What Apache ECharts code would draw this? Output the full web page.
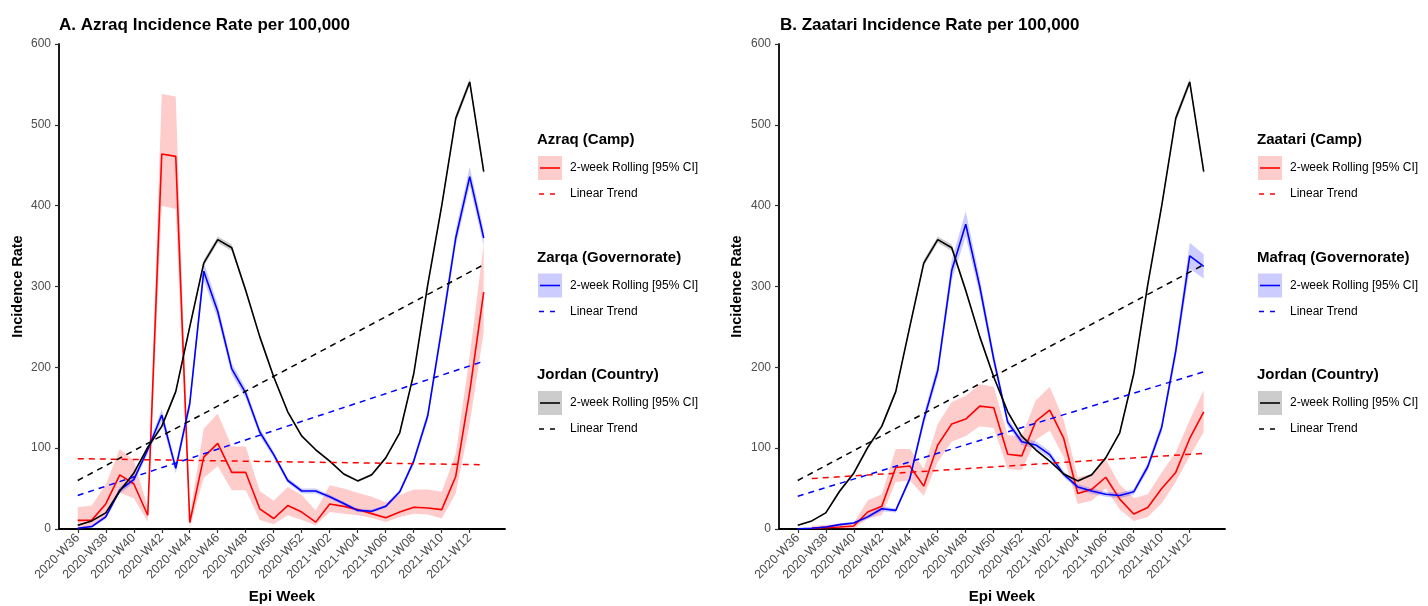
<!DOCTYPE html>
<html>
<head>
<meta charset="utf-8">
<script src="https://cdn.jsdelivr.net/npm/echarts@6/dist/echarts.min.js"></script>
<style>
html,body{margin:0;padding:0;background:#fff;}
#chart{width:1428px;height:606px;}
</style>
</head>
<body>
<div id="chart"></div>
<script>
// ---------------- DATA ----------------
const weeks = ['2020-W36','2020-W37','2020-W38','2020-W39','2020-W40','2020-W41','2020-W42','2020-W43','2020-W44','2020-W45',
  '2020-W46','2020-W47','2020-W48','2020-W49','2020-W50','2020-W51','2020-W52',
  '2021-W01','2021-W02','2021-W03','2021-W04','2021-W05','2021-W06','2021-W07','2021-W08','2021-W09','2021-W10','2021-W11','2021-W12','2021-W13'];
const tickWeeks = ['2020-W36','2020-W38','2020-W40','2020-W42','2020-W44','2020-W46','2020-W48','2020-W50','2020-W52',
  '2021-W02','2021-W04','2021-W06','2021-W08','2021-W10','2021-W12'];
const yTicks = [0,100,200,300,400,500,600];

// Jordan (Country) - shared by both panels
const jordan   = [4.5,10,20,47,69,101,127,170,250,329,358,348,295,238,188,145,115,98,84,68,59.5,67,88,119,192,302,400,508,553,442];
const jordanLo = [3.8,9.2,19,45,67,98.5,124.5,167,246.5,325,354,344,291.5,235,185.5,143,113,96.5,82.5,66.5,58,65.5,86.5,117,189.5,298.5,396,503.5,548.5,438];
const jordanHi = [5.2,10.8,21,49,71,103.5,129.5,173,253.5,333,362,352,298.5,241,190.5,147,117,99.5,85.5,69.5,61,68.5,89.5,121,194.5,305.5,404,512.5,557.5,446];

// Azraq (Camp)
const azraq   = [10.7,11,31,67,56,17,464,461,8,89,106,70,70,25,13,29,21,8.5,31,28,24,19,14,21,27,26,24,65,170,293];
const azraqLo = [1,1.5,14,45,38,9,400,396,2,63,78,48,48,11,6,17,11,4.6,21,19,17,14,8.7,15,19,18,13,44,130,244];
const azraqHi = [27,29,55,99,85,27,538,535,17,124,143,102,102,47,35,52,42,23,54,50,45,40,33,42,49,49,46,93,215,353];

// Zarqa (Governorate)
const zarqa   = [1,3,15,48,61,98,141,75,155,319,269,198,168,120,92,60,47,47,40,31.5,23,22,28,46,84,140,248,360,436,360];
const zarqaLo = [0,1.5,12.5,44,57,93,133,69,148,308,260,191,162,115,88,57,44,44,37.5,29,21,20,26,43,80,134,240,350,425,350];
const zarqaHi = [2,4.5,17.5,52,65,103,148,81,162,330,278,205,174,125,96,63,50,50,42.5,34,25,24,30,49,88,146,256,370,448,370];

// Zaatari (Camp) - no value for 2020-W36
const zaatari   = [null,0.8,2,2.5,3.7,21,28,76,78,53,104,130,136,152,150,92.5,90.5,133,147,112,44,49,64,37,18.5,26.5,50,70,112,145];
const zaatariLo = [null,0,0,0,0.3,13,17,58,60,41,83,108,115,127,125,74,73,110,122,89,31,35,50,24,10,15,32,58,90,120];
const zaatariHi = [null,4,5,6.5,7.5,35.5,43,99,99,75,130,157,165,179,176,116,115,159,176,135,64,68,86,55,38,43,70,95,135,172];

// Mafraq (Governorate)
const mafraq   = [0.3,1,2.5,5.4,7.4,15,25,23,62,135,196,320,377,300,210,132,108,104,92,67.5,52,47,43,41.5,46,77,126,220,338,325];
const mafraqLo = [0,0.3,1.5,4,6,12.5,22,20.5,58,128,188,308,362,290,203,127,103.5,99.5,87.5,64,48.5,43.5,40,38,42.5,72,120,211,322,310];
const mafraqHi = [0.6,2,3.5,7,9,17.5,28,25.5,66,142,204,333,393,311,218,137,112.5,108.5,96.5,71,55.5,50.5,46,45,49.5,82,132,229,354,340];

// Linear trends (start/end weeks and values)
const trendWeeksFull    = ['2020-W36','2021-W13'];
const trendWeeksZaatari = ['2020-W37','2021-W13'];
const jordanTrend  = [60, 327];
const azraqTrend   = [87, 79.5];
const zarqaTrend   = [41.5, 207.5];
const zaatariTrend = [62.4, 93.5];
const mafraqTrend  = [40.5, 194.5];

// ---------------- HELPERS ----------------
const FONT = '"Liberation Sans", Arial, sans-serif';
const RED = '#FF0000', BLUE = '#0000FF', BLACK = '#000000';
const wi = w => weeks.indexOf(w);

function pairs(vals){
  const out = [];
  vals.forEach((v,i)=>{ if (v !== null) out.push([i, v]); });
  return out;
}
function trendPairs(ws, vals){ return ws.map((w,k)=>[wi(w), vals[k]]); }

function bandSeries(ax, lo, hi, fill){
  const rows = [];
  lo.forEach((v,i)=>{ if (v !== null) rows.push([i, v, hi[i]]); });
  return {
    type:'custom', xAxisIndex:ax, yAxisIndex:ax, silent:true, z:1,
    clip:true,
    encode:{x:0, y:[1,2]},
    data: rows,
    renderItem: function(params, api){
      if (params.dataIndex !== 0) return null;
      const top = [], bot = [];
      rows.forEach(r=>{ top.push(api.coord([r[0], r[2]])); bot.push(api.coord([r[0], r[1]])); });
      return {type:'polygon', shape:{points: top.concat(bot.reverse())}, style:{fill: fill}};
    }
  };
}
function lineSeries(ax, data, color, dashed){
  return {
    type:'line', xAxisIndex:ax, yAxisIndex:ax, data:data, symbol:'none', silent:true,
    z: dashed ? 4 : 3, animation:false,
    lineStyle:{color:color, width: dashed ? 1.5 : 1.6, type: dashed ? [6,5] : 'solid'}
  };
}

const tickIdx = tickWeeks.map(wi);
function xAxis(gi){
  return {
    type:'value', gridIndex:gi, min:-1.34, max:30.52,
    axisLine:{show:true, onZero:false, lineStyle:{color:'#000', width:1.8}},
    axisTick:{show:true, length:4, customValues: tickIdx, lineStyle:{color:'#333', width:1.2}},
    axisLabel:{show:true, customValues: tickIdx, rotate:45, margin:7, color:'#4D4D4D', fontSize:12.5, fontFamily:FONT,
      formatter: v => weeks[Math.round(v)] || ''},
    splitLine:{show:false}
  };
}
function yAxis(gi){
  return {
    type:'value', gridIndex:gi, min:0, max:600, interval:100,
    axisLine:{show:true, onZero:false, lineStyle:{color:'#000', width:1.8}},
    axisTick:{show:true, length:4, lineStyle:{color:'#333', width:1.2}},
    axisLabel:{color:'#4D4D4D', fontSize:12, fontFamily:FONT, margin:8,
      formatter: v => yTicks.indexOf(v) >= 0 ? String(v) : ''},
    splitLine:{show:false}
  };
}

function legendGroup(x0, groups){
  const els = [];
  groups.forEach(g=>{
    const y = g.y;
    els.push({type:'text', x:x0, y:y, style:{text:g.title, font:'bold 15px '+FONT, fill:'#000', verticalAlign:'middle'}});
    els.push({type:'rect', shape:{x:x0+1, y:y+16, width:24, height:24}, style:{fill:g.box}});
    els.push({type:'line', shape:{x1:x0+3, y1:y+28, x2:x0+23, y2:y+28}, style:{stroke:g.color, lineWidth:1.6}});
    els.push({type:'text', x:x0+33, y:y+28, style:{text:'2-week Rolling [95% CI]', font:'12px '+FONT, fill:'#000', verticalAlign:'middle'}});
    els.push({type:'line', shape:{x1:x0+2, y1:y+54, x2:x0+23, y2:y+54}, style:{stroke:g.color, lineWidth:1.5, lineDash:[5,6]}});
    els.push({type:'text', x:x0+33, y:y+54, style:{text:'Linear Trend', font:'12px '+FONT, fill:'#000', verticalAlign:'middle'}});
  });
  return els;
}

// ---------------- CHART ----------------
const chart = echarts.init(document.getElementById('chart'), null, {renderer:'canvas'});

const grids = [
  {left:59, top:44, width:446, height:485},
  {left:779, top:44, width:446, height:485}
];

const series = [
  // panel A
  bandSeries(0, azraqLo, azraqHi, 'rgba(255,0,0,0.2)'),
  bandSeries(0, zarqaLo, zarqaHi, 'rgba(0,0,255,0.2)'),
  bandSeries(0, jordanLo, jordanHi, 'rgba(0,0,0,0.2)'),
  lineSeries(0, pairs(azraq), RED, false),
  lineSeries(0, pairs(zarqa), BLUE, false),
  lineSeries(0, pairs(jordan), BLACK, false),
  lineSeries(0, trendPairs(trendWeeksFull, azraqTrend), RED, true),
  lineSeries(0, trendPairs(trendWeeksFull, zarqaTrend), BLUE, true),
  lineSeries(0, trendPairs(trendWeeksFull, jordanTrend), BLACK, true),
  // panel B
  bandSeries(1, zaatariLo, zaatariHi, 'rgba(255,0,0,0.2)'),
  bandSeries(1, mafraqLo, mafraqHi, 'rgba(0,0,255,0.2)'),
  bandSeries(1, jordanLo, jordanHi, 'rgba(0,0,0,0.2)'),
  lineSeries(1, pairs(zaatari), RED, false),
  lineSeries(1, pairs(mafraq), BLUE, false),
  lineSeries(1, pairs(jordan), BLACK, false),
  lineSeries(1, trendPairs(trendWeeksZaatari, zaatariTrend), RED, true),
  lineSeries(1, trendPairs(trendWeeksFull, mafraqTrend), BLUE, true),
  lineSeries(1, trendPairs(trendWeeksFull, jordanTrend), BLACK, true)
];

const graphics = [
  {type:'text', x:59, y:25, style:{text:'A. Azraq Incidence Rate per 100,000', font:'bold 17px '+FONT, fill:'#000', verticalAlign:'middle'}},
  {type:'text', x:780, y:25, style:{text:'B. Zaatari Incidence Rate per 100,000', font:'bold 17px '+FONT, fill:'#000', verticalAlign:'middle'}},
  {type:'text', x:18, y:286.5, rotation:Math.PI/2, style:{text:'Incidence Rate', font:'bold 14.5px '+FONT, fill:'#000', align:'center', verticalAlign:'middle'}},
  {type:'text', x:737, y:286.5, rotation:Math.PI/2, style:{text:'Incidence Rate', font:'bold 14.5px '+FONT, fill:'#000', align:'center', verticalAlign:'middle'}},
  {type:'text', x:282, y:597, style:{text:'Epi Week', font:'bold 15px '+FONT, fill:'#000', align:'center', verticalAlign:'middle'}},
  {type:'text', x:1002, y:597, style:{text:'Epi Week', font:'bold 15px '+FONT, fill:'#000', align:'center', verticalAlign:'middle'}}
].concat(
  legendGroup(537, [
    {y:140, title:'Azraq (Camp)', color:RED, box:'#FFCCCC'},
    {y:257.5, title:'Zarqa (Governorate)', color:BLUE, box:'#CCCCFF'},
    {y:375, title:'Jordan (Country)', color:BLACK, box:'#CCCCCC'}
  ]),
  legendGroup(1257, [
    {y:140, title:'Zaatari (Camp)', color:RED, box:'#FFCCCC'},
    {y:257.5, title:'Mafraq (Governorate)', color:BLUE, box:'#CCCCFF'},
    {y:375, title:'Jordan (Country)', color:BLACK, box:'#CCCCCC'}
  ])
);

chart.setOption({
  animation:false,
  backgroundColor:'#ffffff',
  textStyle:{fontFamily:FONT},
  grid: grids,
  xAxis: [xAxis(0), xAxis(1)],
  yAxis: [yAxis(0), yAxis(1)],
  series: series,
  graphic: graphics
});
</script>
</body>
</html>
